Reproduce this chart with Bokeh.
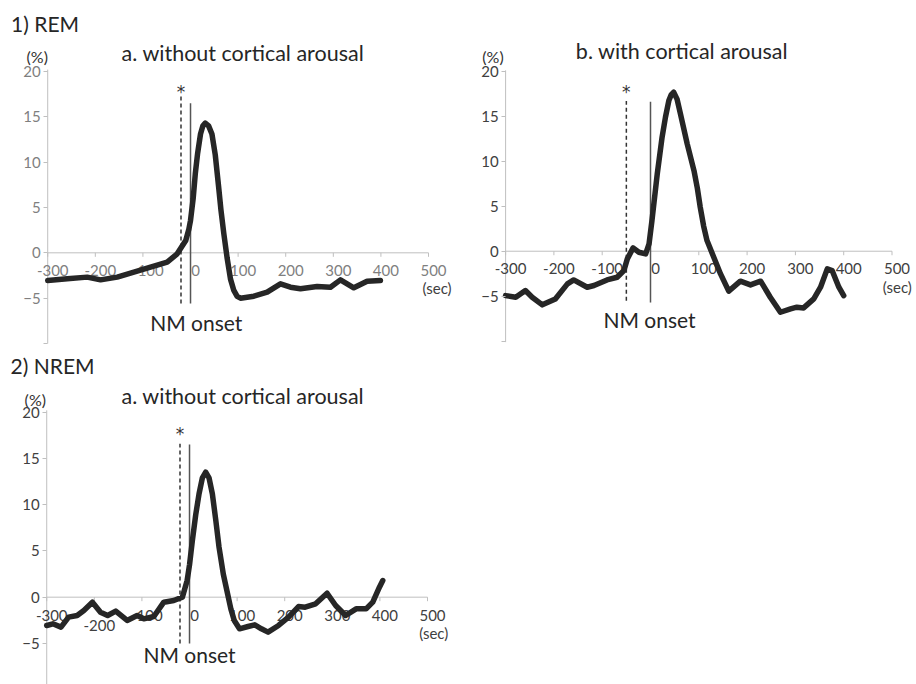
from bokeh.plotting import figure
from bokeh.layouts import column, row
from bokeh.models import Range1d, FixedTicker, LinearAxis
from bokeh.core.properties import value
from bokeh.embed import file_html
from bokeh.resources import INLINE

# ---------------- data ----------------
x_ticks = [-300, -200, -100, 0, 100, 200, 300, 400, 500]
x_tick_labels = ["-300", "-200", "-100", "0", "100", "200", "300", "400", "500"]
y_ticks = [-10, -5, 0, 5, 10, 15, 20]

# 1) REM  a. without cortical arousal
rem_a_t = [-300, -259, -217, -189, -154, -119, -84, -49, -28, -10, -3.5, 0, 5.6, 10,
           15, 21, 26, 31, 38, 45, 52, 59, 64, 70, 77, 84, 91, 98, 105, 133, 161,
           189, 210, 231, 266, 294, 315, 343, 371, 399]
rem_a_v = [-3.05, -2.87, -2.68, -2.98, -2.68, -2.13, -1.58, -1.03, -0.11, 1.36, 2.6,
           3.57, 6.0, 8.7, 11.0, 13.1, 14.0, 14.3, 14.0, 13.1, 10.8, 7.3, 4.7, 2.1,
           -0.6, -2.9, -4.15, -4.8, -5.0, -4.78, -4.34, -3.42, -3.79, -3.97, -3.71,
           -3.79, -2.98, -3.86, -3.13, -3.05]

# 1) REM  b. with cortical arousal
rem_b_t = [-300, -279, -259, -245, -224, -197, -172, -159, -131, -117, -90, -69, -55,
           -48, -36, -24, -10, -3, 3, 14, 24, 31, 38, 43, 48, 55, 62, 76, 90, 97, 103,
           110, 117, 131, 145, 162, 186, 207, 228, 248, 269, 290, 303, 317, 338, 352,
           366, 376, 390, 400]
rem_b_v = [-4.93, -5.11, -4.37, -5.11, -5.96, -5.30, -3.63, -3.19, -4.0, -3.81, -3.19,
           -2.89, -2.15, -0.85, 0.37, -0.11, -0.30, 0.81, 3.41, 8.59, 12.67, 14.9,
           16.74, 17.4, 17.67, 16.9, 15.26, 11.93, 8.96, 7.0, 4.89, 2.8, 1.19, -0.67,
           -2.52, -4.44, -3.33, -3.74, -3.33, -5.11, -6.78, -6.41, -6.22, -6.30, -5.30,
           -4.0, -1.96, -2.15, -4.0, -4.93]

# 2) NREM  a. without cortical arousal
nrem_a_t = [-300, -287, -270, -254, -236, -222, -204, -187, -172, -155, -131, -110,
            -96, -75, -54, -33, -15, -5, 0, 6, 13, 20, 27, 34, 41, 48, 55, 62, 71, 80,
            87, 94, 105, 123, 137, 151, 165, 187, 208, 229, 243, 265, 289, 307, 328,
            350, 371, 385, 399, 406]
nrem_a_v = [-3.06, -2.88, -3.24, -2.16, -1.98, -1.44, -0.54, -1.62, -1.98, -1.51,
            -2.52, -1.98, -2.34, -2.09, -0.54, -0.36, 0.0, 1.80, 3.5, 6.13, 8.9, 11.17,
            12.9, 13.51, 12.9, 11.17, 8.4, 5.41, 2.5, 0.36, -1.3, -2.52, -3.42, -3.17,
            -2.99, -3.42, -3.78, -3.06, -2.16, -1.01, -1.08, -0.72, 0.43, -0.90, -1.98,
            -1.26, -1.26, -0.54, 1.08, 1.80]

# time of the significant change (*)
star_rem_a = -20
star_rem_b = -50
star_nrem_a = -20

FONT = "Lato"
CURVE = "#262626"
AXIS = "#bfbfbf"
DARK = "#262626"


def txt(p, x, y, s, size, color=DARK, align="center", baseline="middle", font=FONT):
    p.text(x=[x], y=[y], text=[s], text_align=align, text_baseline=baseline,
           text_font=value(font), text_font_size=size, text_color=color)


def panel(t, v, star_x, cfg):
    p = figure(width=cfg["w"], height=cfg["h"], output_backend="svg",
               toolbar_location=None, x_axis_location=None, y_axis_location=None,
               x_range=Range1d(cfg["x0"], cfg["x1"]),
               y_range=Range1d(cfg["y0"], cfg["y1"]),
               min_border=0)
    p.outline_line_color = None
    p.grid.visible = False
    p.background_fill_color = "white"
    p.border_fill_color = "white"

    # y axis (library axis placed at x = -300)
    ya = LinearAxis(fixed_location=x_ticks[0], ticker=FixedTicker(ticks=y_ticks))
    ya.major_label_overrides = {-10: ""}
    ya.axis_line_color = None
    ya.major_tick_line_color = AXIS
    ya.minor_tick_line_color = None
    ya.major_tick_out = 4
    ya.major_tick_in = 0
    ya.major_label_standoff = 3
    ya.major_label_text_font = FONT
    ya.major_label_text_font_size = "15px"
    ya.major_label_text_color = cfg["lab"]
    p.add_layout(ya, "left")
    p.segment(x0=[x_ticks[0]], y0=[cfg["ybot"]], x1=[x_ticks[0]], y1=[cfg["ytop"]],
              line_color=AXIS, line_width=1)

    # x axis drawn at y = 0
    tick_len = 4.0 / cfg["ppu"]
    p.segment(x0=[x_ticks[0]], y0=[0], x1=[x_ticks[-1]], y1=[0],
              line_color=AXIS, line_width=1)
    p.segment(x0=x_ticks, y0=[0] * len(x_ticks), x1=x_ticks,
              y1=[-tick_len] * len(x_ticks), line_color=AXIS, line_width=1)
    ly = [cfg["label_y"]] * len(x_ticks)
    for k, dy in cfg.get("stagger", {}).items():
        ly[x_ticks.index(k)] = dy
    p.text(x=x_ticks, y=ly, text=x_tick_labels, x_offset=cfg.get("xoff", 5),
           text_align="center", text_baseline="middle",
           text_font=value(FONT), text_font_size="15px", text_color=cfg["lab"])
    txt(p, cfg["sec"][0], cfg["sec"][1], "(sec)", "15px", "#404040")

    # onset markers
    p.segment(x0=[star_x], y0=[cfg["dash"][1]], x1=[star_x], y1=[cfg["dash"][0]],
              line_color="#333333", line_width=1.5, line_dash="4 3")
    p.segment(x0=[0], y0=[cfg["solid"][1]], x1=[0], y1=[cfg["solid"][0]],
              line_color="#555555", line_width=1.5)
    txt(p, star_x, cfg["star_y"], "*", "17px", "#333333", font="DejaVu Sans")
    txt(p, cfg["nm"][0], cfg["nm"][1], "NM onset", "21px")

    # curve
    p.line(t, v, line_color=CURVE, line_width=5.5, line_join="round", line_cap="round")

    # headings
    if cfg.get("head"):
        txt(p, cfg["head"][1], cfg["head"][2], cfg["head"][0], "21px", align="left")
    txt(p, cfg["title"][1], cfg["title"][2], cfg["title"][0], "21.5px")
    txt(p, cfg["pct"][0], cfg["pct"][1], "(%)", "16px", "#333333")
    return p


p1a = panel(rem_a_t, rem_a_v, star_rem_a, dict(
    w=458, h=350, x0=-399.2, x1=563, y0=-10.77, y1=27.82, ybot=-10, ytop=20.2,
    ppu=9.07, lab="#7f7f7f", label_y=-2.0, sec=(518, -3.9), dash=(17.3, -5.6),
    solid=(16.5, -5.6), star_y=17.7, nm=(12, -7.63), head=("1) REM", -377, 25.3),
    title=("a. without cortical arousal", 110, 22.0), pct=(-322, 21.7)))

p1b = panel(rem_b_t, rem_b_v, star_rem_b, dict(
    w=458, h=350, x0=-397.5, x1=550.7, y0=-11.03, y1=27.86, ybot=-10.1, ytop=20.1,
    ppu=9.0, lab="#404040", label_y=-1.9, xoff=5, sec=(511, -4.0), dash=(16.7, -5.5),
    solid=(16.6, -5.7), star_y=17.7, nm=(-2, -7.64), head=None,
    title=("b. with cortical arousal", 65, 22.3), pct=(-326, 21.6)))

p2a = panel(nrem_a_t, nrem_a_v, star_nrem_a, dict(
    w=458, h=334, x0=-397.1, x1=565.1, y0=-9.44, y1=26.67, ybot=-9.44, ytop=20.2,
    ppu=9.25, lab="#404040", label_y=-2.0, stagger={-200: -3.06}, sec=(513, -3.9),
    dash=(16.6, -5.0), solid=(16.5, -5.0), star_y=17.6, nm=(0, -6.25),
    head=("2) NREM", -376, 25.1),
    title=("a. without cortical arousal", 112, 21.8), pct=(-324, 21.4)))

layout = column(row(p1a, p1b), p2a)
open("out.html", "w").write(file_html(layout, INLINE))
